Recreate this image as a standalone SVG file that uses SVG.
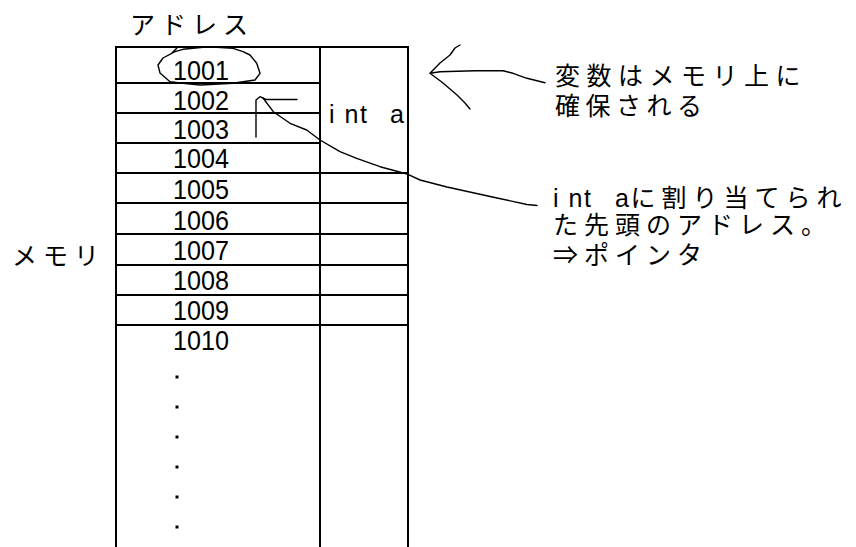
<svg xmlns="http://www.w3.org/2000/svg" width="856" height="547" viewBox="0 0 856 547">
<style>
.grid{stroke:#000;stroke-width:2;fill:none}
.hand{stroke:#000;stroke-width:1.4;fill:none;stroke-linejoin:round;stroke-linecap:round}
.jp{font-family:"Liberation Sans","Noto Sans CJK JP",sans-serif;font-size:25px;fill:#000}
.num{font-family:"Liberation Sans",Arial,sans-serif;font-size:27px;fill:#000;text-anchor:middle}
</style>
<rect width="856" height="547" fill="#fff"/>
<g id="labels">
<text class="jp" x="130 161 192 223" y="34">アドレス</text>
<text class="jp" x="12 43 74" y="265">メモリ</text>
</g>
<g id="memory-table">
<path class="grid" d="M116 547V47H408V547M320 47V547M116 83H320M116 113H320M116 143H320M116 173H408M116 203H408M116 234H408M116 265H408M116 295H408M116 325H408"/>
</g>
<g id="addresses">
<g id="addr-1001"><text class="num" x="201" y="80" textLength="56" lengthAdjust="spacingAndGlyphs">1001</text></g>
<g id="addr-1002"><text class="num" x="201" y="110" textLength="56" lengthAdjust="spacingAndGlyphs">1002</text></g>
<g id="addr-1003"><text class="num" x="201" y="139" textLength="56" lengthAdjust="spacingAndGlyphs">1003</text></g>
<g id="addr-1004"><text class="num" x="201" y="168" textLength="56" lengthAdjust="spacingAndGlyphs">1004</text></g>
<g id="addr-1005"><text class="num" x="201" y="199" textLength="56" lengthAdjust="spacingAndGlyphs">1005</text></g>
<g id="addr-1006"><text class="num" x="201" y="230" textLength="56" lengthAdjust="spacingAndGlyphs">1006</text></g>
<g id="addr-1007"><text class="num" x="201" y="260" textLength="56" lengthAdjust="spacingAndGlyphs">1007</text></g>
<g id="addr-1008"><text class="num" x="201" y="290" textLength="56" lengthAdjust="spacingAndGlyphs">1008</text></g>
<g id="addr-1009"><text class="num" x="201" y="320" textLength="56" lengthAdjust="spacingAndGlyphs">1009</text></g>
<g id="addr-1010"><text class="num" x="201" y="350" textLength="56" lengthAdjust="spacingAndGlyphs">1010</text></g>
<g id="ellipsis" fill="#000">
<rect x="175.5" y="375.5" width="3" height="3"/>
<rect x="175.5" y="405.5" width="3" height="3"/>
<rect x="175.5" y="435.5" width="3" height="3"/>
<rect x="175.5" y="465.5" width="3" height="3"/>
<rect x="175.5" y="495.5" width="3" height="3"/>
<rect x="175.5" y="525.5" width="3" height="3"/>
</g>
</g>
<g id="var-int-a">
<text class="jp" x="329 344.5 360 375.5 390" y="123">int a</text>
</g>
<g id="note-variable">
<text class="jp" x="555 586.5 618 649.5 681 712.5 744 775.5" y="85">変数はメモリ上に</text>
<text class="jp" x="555 585.5 616 646.5 677" y="115">確保される</text>
</g>
<g id="note-pointer">
<text class="jp" x="553 568.5 584 599.5 615 630.5 661.5 692.5 723.5 754.5 785.5 816.5" y="207">int aに割り当てられ</text>
<text class="jp" x="553 584 615 646 677 708 739 770 801" y="234">た先頭のアドレス。</text>
<text class="jp" x="553 584 615 646 677" y="264">⇒ポインタ</text>
</g>
<g id="connectors">
<path class="hand" d="M171.7 53.3L176.7 48.3M175 51.7L163 58L158 65L160 73L170 81.7L183 83.3L200 85L233 83.3L243 81.7L255 80L260 73.3L256.7 63.3L250 55L243 51.7L233 48.3L216.7 47.3L203 47.3L183 49.3L175 51.7"/>
<path class="hand" d="M256 137V100L260 96.7L266 99.5H297"/>
<path class="hand" d="M263 98L273.3 111.7L290 123.3L306.7 130L320 140L340 151.7L356.7 158.3L380 166.7L408 174.3L420 180L447 187L497 198L527 204.5L537 205.5"/>
<path class="hand" d="M545 82.7L527 78.3L513 73.3L503 70.7H475L440 71.7L430 73.3M460 45L455 48L450 55L440 63L430 73.3L443 83L457 95L465 103L470 109"/>
</g>
</svg>
